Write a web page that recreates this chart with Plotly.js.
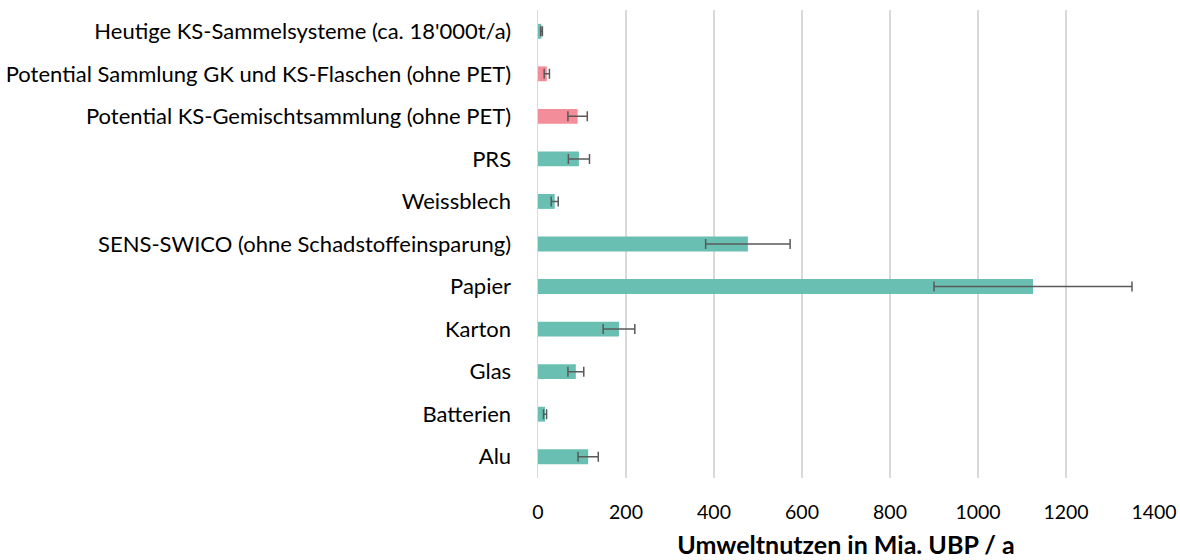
<!DOCTYPE html>
<html><head><meta charset="utf-8">
<script src="https://cdn.plot.ly/plotly-3.0.1.min.js"></script>
<style>html,body{margin:0;padding:0;background:#fff}#chart{width:1180px;height:560px}</style>
</head><body><div id="chart"></div>
<script>
const categories = ["Alu","Batterien","Glas","Karton","Papier","SENS-SWICO (ohne Schadstoffeinsparung)","Weissblech","PRS","Potential KS-Gemischtsammlung (ohne PET)","Potential Sammlung GK und KS-Flaschen (ohne PET)","Heutige KS-Sammelsysteme (ca. 18'000t/a)"];
const values = [114, 16, 86, 184, 1125, 477, 38, 93, 90, 20, 8];
const errors = [23, 3.5, 18, 36, 225, 96, 8, 24, 22, 6, 2];
const colors = ["#69C0B2","#69C0B2","#69C0B2","#69C0B2","#69C0B2","#69C0B2","#69C0B2","#69C0B2","#F28D99","#F28D99","#69C0B2"];
const tickVals = [0,200,400,600,800,1000,1200,1400];

const trace = {
  type: 'bar', orientation: 'h',
  y: categories, x: values,
  marker: {color: colors},
  width: 0.35,
  error_x: {type: 'data', array: errors, visible: true, color: '#595959', thickness: 1.5, width: 5}
};
const layout = {
  width: 1180, height: 560,
  margin: {l: 538, r: 26, t: 10, b: 82},
  paper_bgcolor: '#fff', plot_bgcolor: '#fff',
  showlegend: false,
  font: {family: 'Lato, "Liberation Sans", sans-serif', size: 18, color: '#000'},
  xaxis: {
    range: [0, 1400], tickvals: tickVals, ticktext: tickVals.map(String),
    showgrid: true, gridcolor: '#d9d9d9', gridwidth: 1.5,
    zeroline: false, showline: false, ticks: '',
    tickfont: {size: 19.5}, ticklabelstandoff: 20,
    title: {text: '<b>Umweltnutzen in Mia. UBP / a</b>', font: {size: 25}, standoff: 14}
  },
  yaxis: {
    type: 'category', showgrid: false, zeroline: false,
    showline: true, linecolor: '#d9d9d9', linewidth: 1.5,
    ticks: '', ticklabelstandoff: 21, automargin: false,
    tickfont: {size: 22}
  }
};
Plotly.newPlot('chart', [trace], layout, {displayModeBar: false, staticPlot: true});
</script></body></html>
